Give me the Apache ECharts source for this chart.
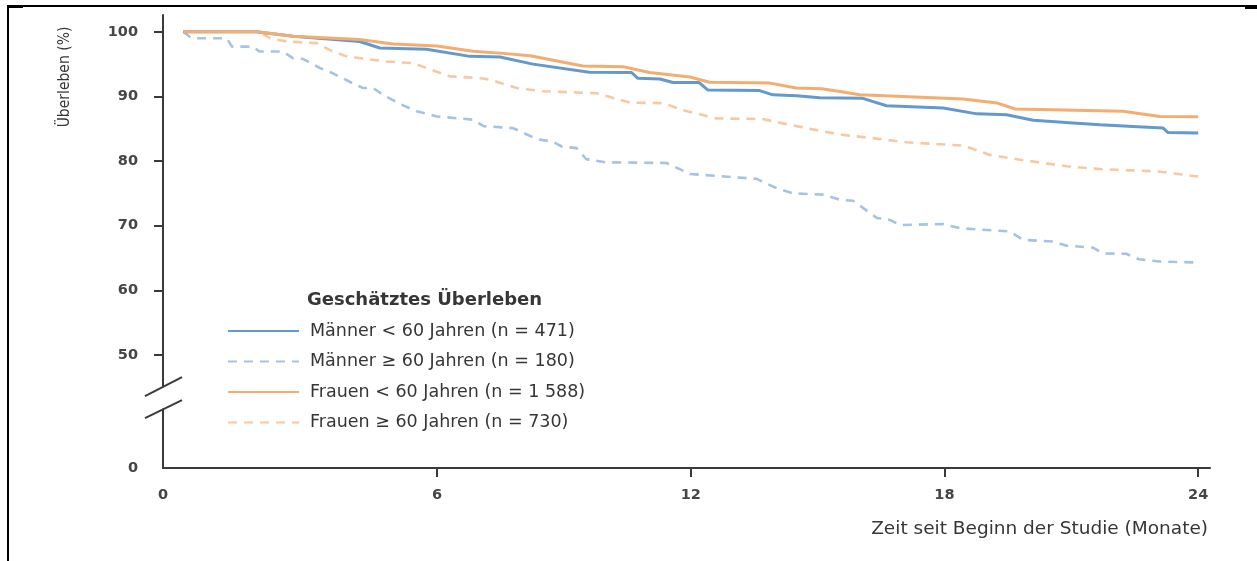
<!DOCTYPE html>
<html>
<head>
<meta charset="utf-8">
<script src="https://cdn.jsdelivr.net/npm/echarts@6/dist/echarts.min.js"></script>
<style>
  html, body { margin: 0; padding: 0; background: #ffffff; }
  #chart { width: 1257px; height: 561px; }
</style>
</head>
<body>
<div id="chart"></div>
<script>
// Kaplan-Meier survival estimates: [month, survival %]
const menUnder60 = [
  [0, 100], [1.73, 100], [2.6, 99.3], [4.17, 98.5], [4.65, 97.5], [5.75, 97.3],
  [6.78, 96.2], [7.49, 96.1], [8.27, 95.0], [9.6, 93.75], [10.6, 93.7], [10.75, 92.8],
  [11.27, 92.7], [11.58, 92.15], [12.2, 92.15], [12.4, 91.0], [13.63, 90.9], [13.94, 90.25],
  [14.5, 90.1], [15.05, 89.8], [16.07, 89.7], [16.63, 88.55], [17.97, 88.2], [18.77, 87.3],
  [19.47, 87.15], [20.1, 86.3], [21.04, 85.9], [21.68, 85.6], [22.46, 85.35], [23.17, 85.1],
  [23.29, 84.4], [24, 84.35]
];
const menOver60 = [
  [0, 100], [0.2, 99.0], [1.03, 99.0], [1.15, 97.7], [1.65, 97.7], [1.8, 96.95],
  [2.35, 96.95], [2.6, 95.9], [2.83, 95.8], [3.23, 94.4], [3.53, 93.6], [4.0, 92.05],
  [4.25, 91.3], [4.49, 91.3], [4.72, 90.25], [5.12, 88.85], [5.52, 87.7], [6.0, 86.9],
  [6.85, 86.4], [7.1, 85.4], [7.8, 85.1], [8.36, 83.4], [8.74, 83.0], [8.95, 82.25],
  [9.3, 82.0], [9.53, 80.3], [10.0, 79.8], [11.43, 79.7], [11.98, 78.0], [13.56, 77.25],
  [14.03, 75.8], [14.42, 75.0], [15.13, 74.8], [15.53, 74.0], [15.84, 73.85], [16.4, 71.2],
  [16.71, 70.9], [16.95, 70.1], [17.97, 70.25], [18.37, 69.6], [19.55, 69.1], [19.86, 67.8],
  [20.56, 67.55], [20.89, 66.9], [21.51, 66.6], [21.75, 65.7], [22.3, 65.65], [22.6, 64.8],
  [23.1, 64.45], [24, 64.3]
];
const womenUnder60 = [
  [0, 100], [1.73, 100], [2.6, 99.3], [4.17, 98.8], [4.96, 98.1], [6.0, 97.8],
  [6.85, 97.0], [7.49, 96.7], [8.2, 96.3], [9.45, 94.7], [10.4, 94.6], [11.03, 93.7],
  [11.98, 93.0], [12.45, 92.2], [13.87, 92.06], [14.5, 91.3], [15.1, 91.2], [15.53, 90.77],
  [16.0, 90.25], [18.44, 89.6], [19.24, 89.0], [19.67, 88.05], [22.22, 87.7], [23.1, 86.9],
  [24, 86.85]
];
const womenOver60 = [
  [0, 100], [1.8, 100], [2.05, 99.0], [2.45, 98.5], [3.15, 98.25], [3.46, 97.2],
  [3.86, 96.2], [4.8, 95.4], [5.43, 95.15], [5.75, 94.4], [6.3, 93.1], [7.0, 92.85],
  [7.25, 92.6], [7.88, 91.3], [8.5, 90.8], [9.77, 90.5], [10.56, 89.05], [11.35, 88.96],
  [11.8, 87.9], [12.61, 86.6], [13.7, 86.5], [14.34, 85.6], [15.13, 84.6], [15.53, 84.1],
  [16.3, 83.55], [17.1, 82.9], [18.44, 82.4], [19.08, 80.95], [19.79, 80.2], [20.89, 79.2],
  [21.68, 78.75], [23.03, 78.4], [24, 77.6]
];

const seriesNames = [
  'Männer < 60 Jahren (n = 471)',
  'Männer ≥ 60 Jahren (n = 180)',
  'Frauen < 60 Jahren (n = 1 588)',
  'Frauen ≥ 60 Jahren (n = 730)'
];
const legendTitle = 'Geschätztes Überleben';
const yAxisTitle = 'Überleben (%)';
const xAxisTitle = 'Zeit seit Beginn der Studie (Monate)';

const xTickValues = [6, 12, 18, 24];
const yTickValues = [50, 60, 70, 80, 90, 100];

// The y axis is broken between 0 and 50: the "0" label sits at yZeroPos,
// the x axis origin label "0" sits at the axis start.
const yZeroPos = 32.5;
const yBreakCenter = 43.4;
const xStart = -0.48;

const BLUE = '#6399cc';
const BLUE_LIGHT = '#a6c2e4';
const ORANGE = '#f3ad70';
const ORANGE_LIGHT = '#f7c9a0';
const AXIS = '#3a3a3a';
const TEXT = '#363636';
const FONT = '"DejaVu Sans", sans-serif';

const chart = echarts.init(document.getElementById('chart'), null, { renderer: 'canvas' });

function lineSeries(name, data, color, dashed, z) {
  return {
    name: name,
    type: 'line',
    data: data,
    symbol: 'none',
    smooth: false,
    z: z,
    color: color,
    lineStyle: {
      color: color,
      width: dashed ? 2.6 : 3,
      type: dashed ? [9, 7] : 'solid',
      cap: 'butt'
    },
    emphasis: { disabled: true }
  };
}

const tickLabelStyle = {
  fontFamily: FONT,
  fontWeight: 'bold',
  fontSize: 14.5,
  color: '#454545'
};

chart.setOption({
  animation: false,
  backgroundColor: '#ffffff',
  grid: { left: 163, right: 47, top: 15, bottom: 93, containLabel: false, outerBoundsMode: 'none' },
  xAxis: {
    type: 'value',
    min: xStart,
    max: 24.28,
    axisLine: { show: true, onZero: false, lineStyle: { color: AXIS, width: 2 } },
    axisTick: { show: true, customValues: xTickValues, length: 9, inside: false, lineStyle: { color: AXIS, width: 2 } },
    axisLabel: Object.assign({
      customValues: [xStart].concat(xTickValues),
      formatter: v => (v < 0 ? '0' : String(v)),
      margin: 20
    }, tickLabelStyle),
    splitLine: { show: false }
  },
  yAxis: {
    type: 'value',
    min: yZeroPos,
    max: 102.6,
    axisLine: { show: true, onZero: false, lineStyle: { color: AXIS, width: 2 } },
    axisTick: { show: true, customValues: yTickValues, length: 9, lineStyle: { color: AXIS, width: 2 } },
    axisLabel: Object.assign({
      customValues: [yZeroPos].concat(yTickValues),
      formatter: v => (v < 45 ? '0' : String(v)),
      margin: 25
    }, tickLabelStyle),
    splitLine: { show: false }
  },
  legend: {
    orient: 'vertical',
    left: 222,
    top: 317,
    itemWidth: 71,
    itemHeight: 14,
    itemGap: 12.5,
    selectedMode: false,
    data: seriesNames,
    itemStyle: { opacity: 0 },
    textStyle: {
      fontFamily: FONT,
      fontSize: 17.5,
      color: TEXT,
      padding: [0, 0, 0, 6]
    }
  },
  series: [
    lineSeries(seriesNames[0], menUnder60, BLUE, false, 3),
    lineSeries(seriesNames[1], menOver60, BLUE_LIGHT, true, 2),
    lineSeries(seriesNames[2], womenUnder60, ORANGE, false, 4),
    lineSeries(seriesNames[3], womenOver60, ORANGE_LIGHT, true, 1)
  ]
});

// Decorations: axis break marks, titles, page frame
const breakPt = chart.convertToPixel({ gridIndex: 0 }, [xStart, yBreakCenter]);
const axisX = breakPt[0];
const breakY = breakPt[1];

chart.setOption({
  graphic: [
    // gap in the y axis line
    { type: 'rect', shape: { x: axisX - 6, y: breakY - 11, width: 12, height: 22 }, style: { fill: '#ffffff' }, z: 100 },
    { type: 'line', shape: { x1: axisX - 18, y1: breakY - 1.5, x2: axisX + 19, y2: breakY - 20.5 }, style: { stroke: AXIS, lineWidth: 2 }, z: 101 },
    { type: 'line', shape: { x1: axisX - 18, y1: breakY + 20.5, x2: axisX + 19, y2: breakY + 2.5 }, style: { stroke: AXIS, lineWidth: 2 }, z: 101 },
    // y axis title
    {
      type: 'text', x: 65, y: 77, rotation: Math.PI / 2,
      style: { text: yAxisTitle, font: '400 15.5px "DejaVu Sans Condensed", "Liberation Sans Narrow", sans-serif', fill: TEXT, align: 'center', verticalAlign: 'middle' },
      z: 100
    },
    // x axis title
    {
      type: 'text', x: 1208, y: 529,
      style: { text: xAxisTitle, font: '400 18.5px ' + FONT, fill: TEXT, align: 'right', verticalAlign: 'middle' },
      z: 100
    },
    // legend heading
    {
      type: 'text', x: 307, y: 300,
      style: { text: legendTitle, font: 'bold 18px ' + FONT, fill: TEXT, align: 'left', verticalAlign: 'middle' },
      z: 100
    },
    // page frame
    { type: 'line', shape: { x1: 8, y1: 6, x2: 1246, y2: 6 }, style: { stroke: '#000000', lineWidth: 2 }, z: 100 },
    { type: 'line', shape: { x1: 8, y1: 5, x2: 8, y2: 561 }, style: { stroke: '#000000', lineWidth: 2 }, z: 100 },
    { type: 'rect', shape: { x: 8, y: 5, width: 15, height: 3 }, style: { fill: '#000000' }, z: 100 },
    { type: 'rect', shape: { x: 1245, y: 5, width: 12, height: 4 }, style: { fill: '#000000' }, z: 100 }
  ]
});
</script>
</body>
</html>
